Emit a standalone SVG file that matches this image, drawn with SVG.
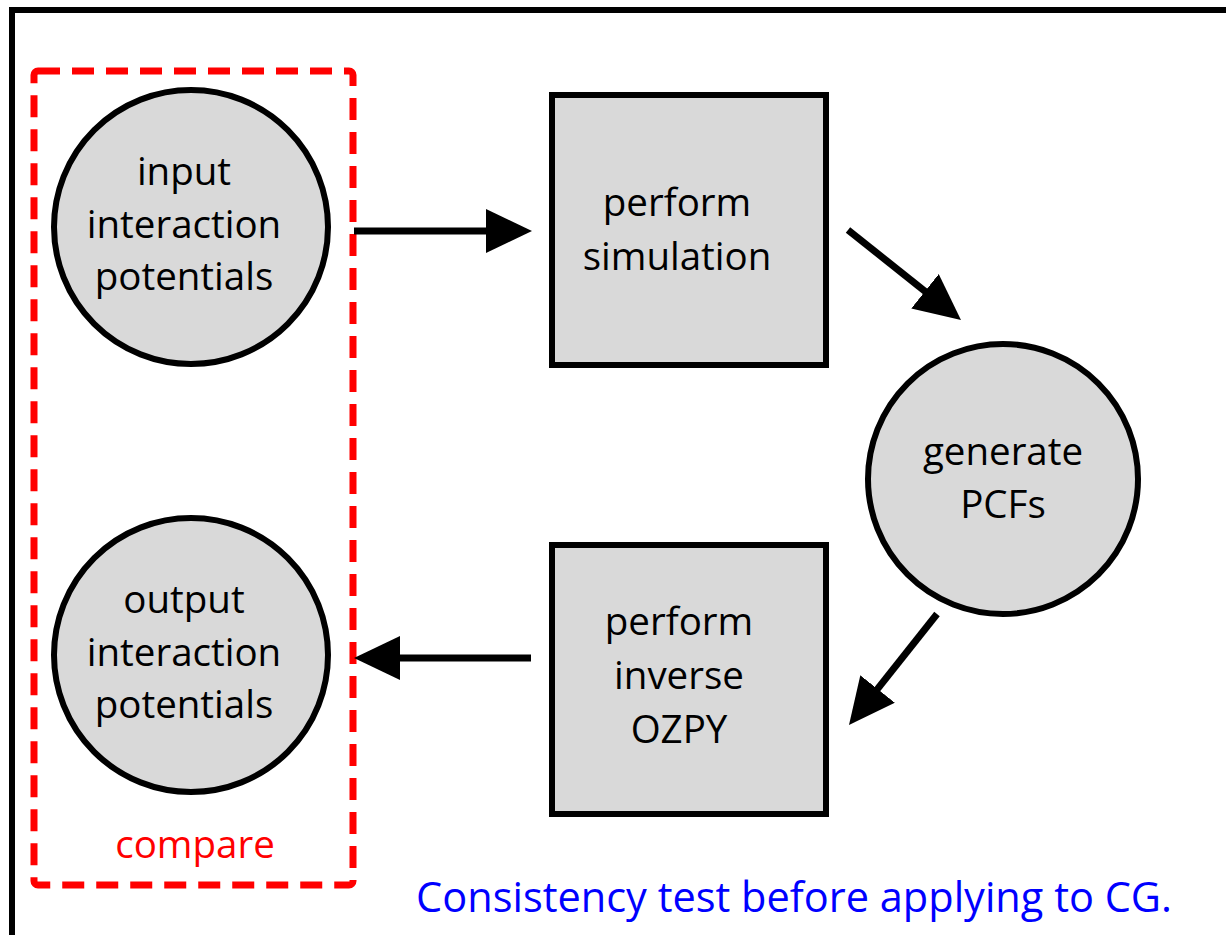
<svg xmlns="http://www.w3.org/2000/svg" width="1226" height="935" viewBox="0 0 1226 935">
<style>
.node{fill:#d9d9d9;stroke:#000;stroke-width:6}
.lbl{font-family:"Open Sans","Liberation Sans",sans-serif;font-size:38.5px;fill:#000;text-anchor:middle}
.conn{stroke:#000;stroke-width:7;fill:none}
</style>
<defs>
<marker id="ah" markerUnits="userSpaceOnUse" markerWidth="48" markerHeight="46" refX="22" refY="22" orient="auto">
<path d="M0,0 L46,22 L0,44 Z" fill="#000"/>
</marker>
</defs>
<rect width="1226" height="935" fill="#fff"/>
<rect x="12" y="10" width="1240" height="950" fill="none" stroke="#000" stroke-width="6"/>
<g id="compare">
<rect x="34" y="71" width="319" height="814" rx="4" fill="none" stroke="#f00" stroke-width="7" stroke-dasharray="22 12"/>
<text x="195" y="858" style="font-family:'Open Sans','Liberation Sans',sans-serif;font-size:38.5px;fill:#f00;text-anchor:middle">compare</text>
</g>
<g id="input">
<circle class="node" cx="191" cy="227" r="137"/>
<text class="lbl" x="184" y="185">input</text>
<text class="lbl" x="184" y="238">interaction</text>
<text class="lbl" x="184" y="290">potentials</text>
</g>
<g id="output">
<circle class="node" cx="191" cy="655" r="137"/>
<text class="lbl" x="184" y="613">output</text>
<text class="lbl" x="184" y="666">interaction</text>
<text class="lbl" x="184" y="718">potentials</text>
</g>
<g id="simulation">
<rect class="node" x="552" y="95" width="274" height="270"/>
<text class="lbl" x="677" y="216">perform</text>
<text class="lbl" x="677" y="270">simulation</text>
</g>
<g id="pcfs">
<circle class="node" cx="1003" cy="479" r="135"/>
<text class="lbl" x="1003" y="465">generate</text>
<text class="lbl" x="1003" y="518">PCFs</text>
</g>
<g id="ozpy">
<rect class="node" x="552" y="545" width="274" height="269"/>
<text class="lbl" x="679" y="635">perform</text>
<text class="lbl" x="679" y="689">inverse</text>
<text class="lbl" x="679" y="743">OZPY</text>
</g>
<g id="connectors">
<line class="conn" x1="354" y1="231" x2="508" y2="231" marker-end="url(#ah)"/>
<line class="conn" x1="848" y1="230" x2="942.2" y2="305" marker-end="url(#ah)"/>
<line class="conn" x1="937" y1="614" x2="863.9" y2="706.2" marker-end="url(#ah)"/>
<line class="conn" x1="531" y1="658" x2="378" y2="658" marker-end="url(#ah)"/>
</g>
<text x="794" y="912" style="font-family:'Open Sans','Liberation Sans',sans-serif;font-size:41.5px;fill:#00f;text-anchor:middle">Consistency test before applying to CG.</text>
</svg>
